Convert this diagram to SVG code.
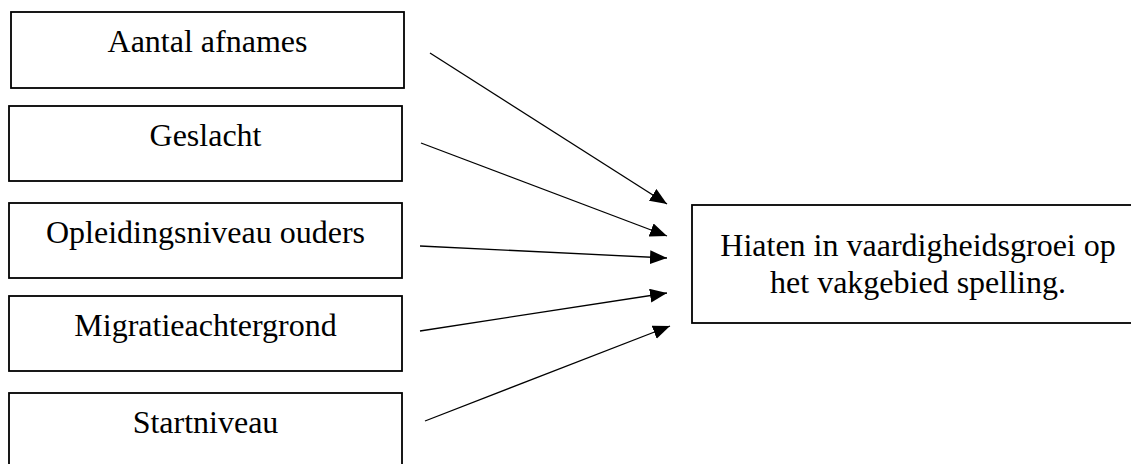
<svg xmlns="http://www.w3.org/2000/svg" width="1131" height="464" viewBox="0 0 1131 464">
  <style>
    .box { fill: #ffffff; stroke: #000000; stroke-width: 1.8; }
    .label { font-family: "Liberation Serif", "Times New Roman", serif; font-size: 32px; fill: #000000; text-anchor: middle; }
    .edge { stroke: #000000; stroke-width: 1.3; fill: none; marker-end: url(#arrow); }
  </style>
  <defs>
    <marker id="arrow" markerUnits="userSpaceOnUse" markerWidth="18" markerHeight="15" refX="17" refY="7" orient="auto">
      <path d="M0,0 L17,7 L0,14 z" fill="#000000"/>
    </marker>
  </defs>
  <rect width="1131" height="464" fill="#ffffff"/>

  <g id="node-aantal-afnames">
    <rect class="box" x="11" y="12" width="393" height="76"/>
    <text class="label" x="207.5" y="52">Aantal afnames</text>
  </g>
  <g id="node-geslacht">
    <rect class="box" x="9" y="106" width="393" height="75"/>
    <text class="label" x="205.5" y="146">Geslacht</text>
  </g>
  <g id="node-opleidingsniveau">
    <rect class="box" x="9" y="203" width="393" height="75"/>
    <text class="label" x="205.5" y="243">Opleidingsniveau ouders</text>
  </g>
  <g id="node-migratie">
    <rect class="box" x="9" y="296" width="393" height="75"/>
    <text class="label" x="205.5" y="336">Migratieachtergrond</text>
  </g>
  <g id="node-startniveau">
    <rect class="box" x="9" y="393" width="393" height="80"/>
    <text class="label" x="205.5" y="433">Startniveau</text>
  </g>
  <g id="node-hiaten">
    <rect class="box" x="692" y="205" width="452" height="118"/>
    <text class="label" x="918" y="256">Hiaten in vaardigheidsgroei op</text>
    <text class="label" x="918" y="293">het vakgebied spelling.</text>
  </g>

  <g id="connectors">
    <line class="edge" x1="430" y1="53" x2="667" y2="204"/>
    <line class="edge" x1="421" y1="143" x2="667" y2="236"/>
    <line class="edge" x1="420" y1="246" x2="667" y2="258"/>
    <line class="edge" x1="420" y1="331" x2="667" y2="293"/>
    <line class="edge" x1="425" y1="421" x2="670" y2="326"/>
  </g>
</svg>
